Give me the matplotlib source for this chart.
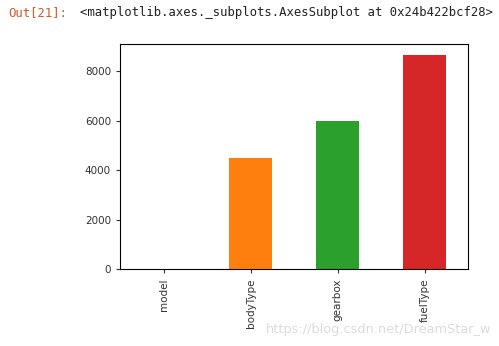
import matplotlib.pyplot as plt

categories = ['model', 'bodyType', 'gearbox', 'fuelType']
counts = [0, 4500, 6000, 8660]
colors = ['#1f77b4', '#ff7f0e', '#2ca02c', '#d62728']

fig = plt.figure(figsize=(4.99, 3.46), dpi=100)
ax = fig.add_axes([0.2405, 0.2225, 0.6975, 0.6505])

ax.bar(range(len(categories)), counts, width=0.5, color=colors)
ax.set_xlim(-0.5, len(categories) - 0.5)
ax.set_xticks(range(len(categories)))
ax.set_xticklabels(categories, rotation=90)
ax.set_yticks([0, 2000, 4000, 6000, 8000])
ax.tick_params(labelsize=7.5, length=3, colors='#333333')

# notebook output line above the plot
fig.text(0.016, 0.965, 'Out[21]:', color='#cf5a2a', family='DejaVu Sans Mono',
         fontsize=8.8, va='center')
fig.text(0.16, 0.965, '<matplotlib.axes._subplots.AxesSubplot at 0x24b422bcf28>',
         color='#222222', family='DejaVu Sans Mono', fontsize=8.8, va='center')

# watermark
fig.text(0.533, 0.047, 'https://blog.csdn.net/DreamStar_w', color='#dcdcdc',
         fontsize=9.3, va='center')

plt.savefig('out.png', dpi=100)
